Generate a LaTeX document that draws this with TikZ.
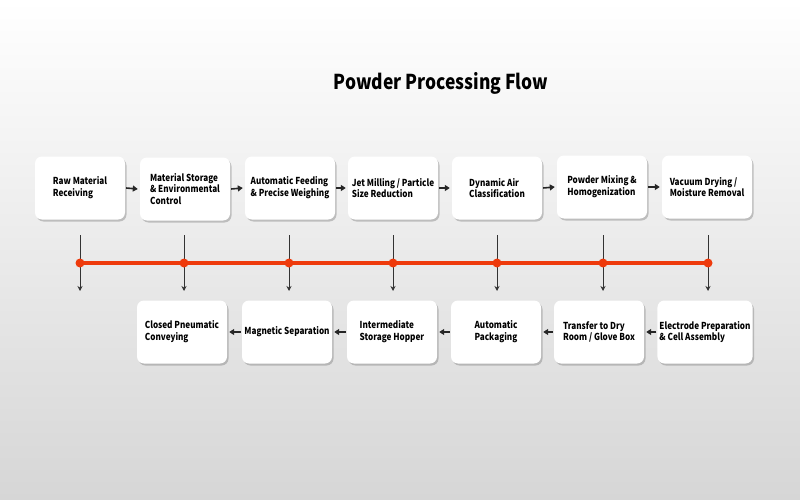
\documentclass[tikz,border=0pt]{standalone}
\usepackage{fontspec}
\setmainfont{Noto Sans CJK SC}[FakeStretch=0.85]
\usetikzlibrary{shadows,arrows.meta}
\definecolor{redline}{RGB}{238,58,12}
\definecolor{bgbottom}{RGB}{214,214,214}
\begin{document}
\begin{tikzpicture}[x=1pt,y=-1pt,
  box/.style={rectangle, rounded corners=7pt, fill=white, minimum width=90pt, minimum height=63pt,
    align=left, inner sep=2pt, font=\fontsize{9.6}{11.8}\selectfont\bfseries,
    drop shadow={shadow xshift=1.5pt, shadow yshift=-2pt, opacity=0.35, fill=black!60}},
  flow/.style={-{Triangle[length=5pt,width=6pt]}, line width=1.6pt, black!85},
  drop/.style={-{Stealth[length=5pt,width=5pt]}, line width=0.8pt, black!80},
  bus/.style={line width=4.5pt, redline},
  dot/.style={circle, fill=redline, inner sep=0pt, minimum size=9pt}]
\shade[top color=white, bottom color=bgbottom] (0,0) rectangle (800,500);
\useasboundingbox (0,0) rectangle (800,500);
\node[font=\fontsize{20.5}{24}\selectfont\bfseries] (title) at (441,83) {Powder Processing Flow};
% top row
\node[box] (t1) at (80,188) {Raw Material\\Receiving};
\node[box] (t2) at (185,189) {Material Storage\\\& Environmental\\Control};
\node[box] (t3) at (290,188) {Automatic Feeding\\\& Precise Weighing};
\node[box] (t4) at (393,188) {Jet Milling / Particle\\Size Reduction};
\node[box] (t5) at (497,188) {Dynamic Air\\Classification};
\node[box] (t6) at (602,187) {Powder Mixing \&\\Homogenization};
\node[box] (t7) at (707,187) {Vacuum Drying /\\Moisture Removal};
% bottom row
\node[box] (b1) at (182,332) {Closed Pneumatic\\Conveying};
\node[box] (b2) at (287,332) {Magnetic Separation};
\node[box] (b3) at (392,332) {Intermediate\\Storage Hopper};
\node[box] (b4) at (496,332) {Automatic\\Packaging};
\node[box] (b5) at (599,332) {Transfer to Dry\\Room / Glove Box};
\node[box] (b6) at (705,332) {Electrode Preparation\\\& Cell Assembly};
% flow arrows
\foreach \a/\b in {t1/t2,t2/t3,t3/t4,t4/t5,t5/t6,t6/t7}
  \draw[flow] ([xshift=1pt]\a.east) -- ([xshift=-2pt]\b.west);
\foreach \a/\b in {b6/b5,b5/b4,b4/b3,b3/b2,b2/b1}
  \draw[flow] ([xshift=-1pt]\a.west) -- ([xshift=2pt]\b.east);
% drops and bus
\foreach \i/\x in {1/80,2/184,3/289,4/393,5/497,6/603,7/708}{
  \coordinate (s\i) at (\x,235);
  \coordinate (e\i) at (\x,291);
  \coordinate (d\i) at (\x,263);
}
\foreach \i in {1,...,7}
  \draw[drop] (s\i) -- (e\i);
\draw[bus] (d1) -- (d7);
\foreach \i in {1,...,7}
  \node[dot] (p\i) at (d\i) {};
\end{tikzpicture}
\end{document}
